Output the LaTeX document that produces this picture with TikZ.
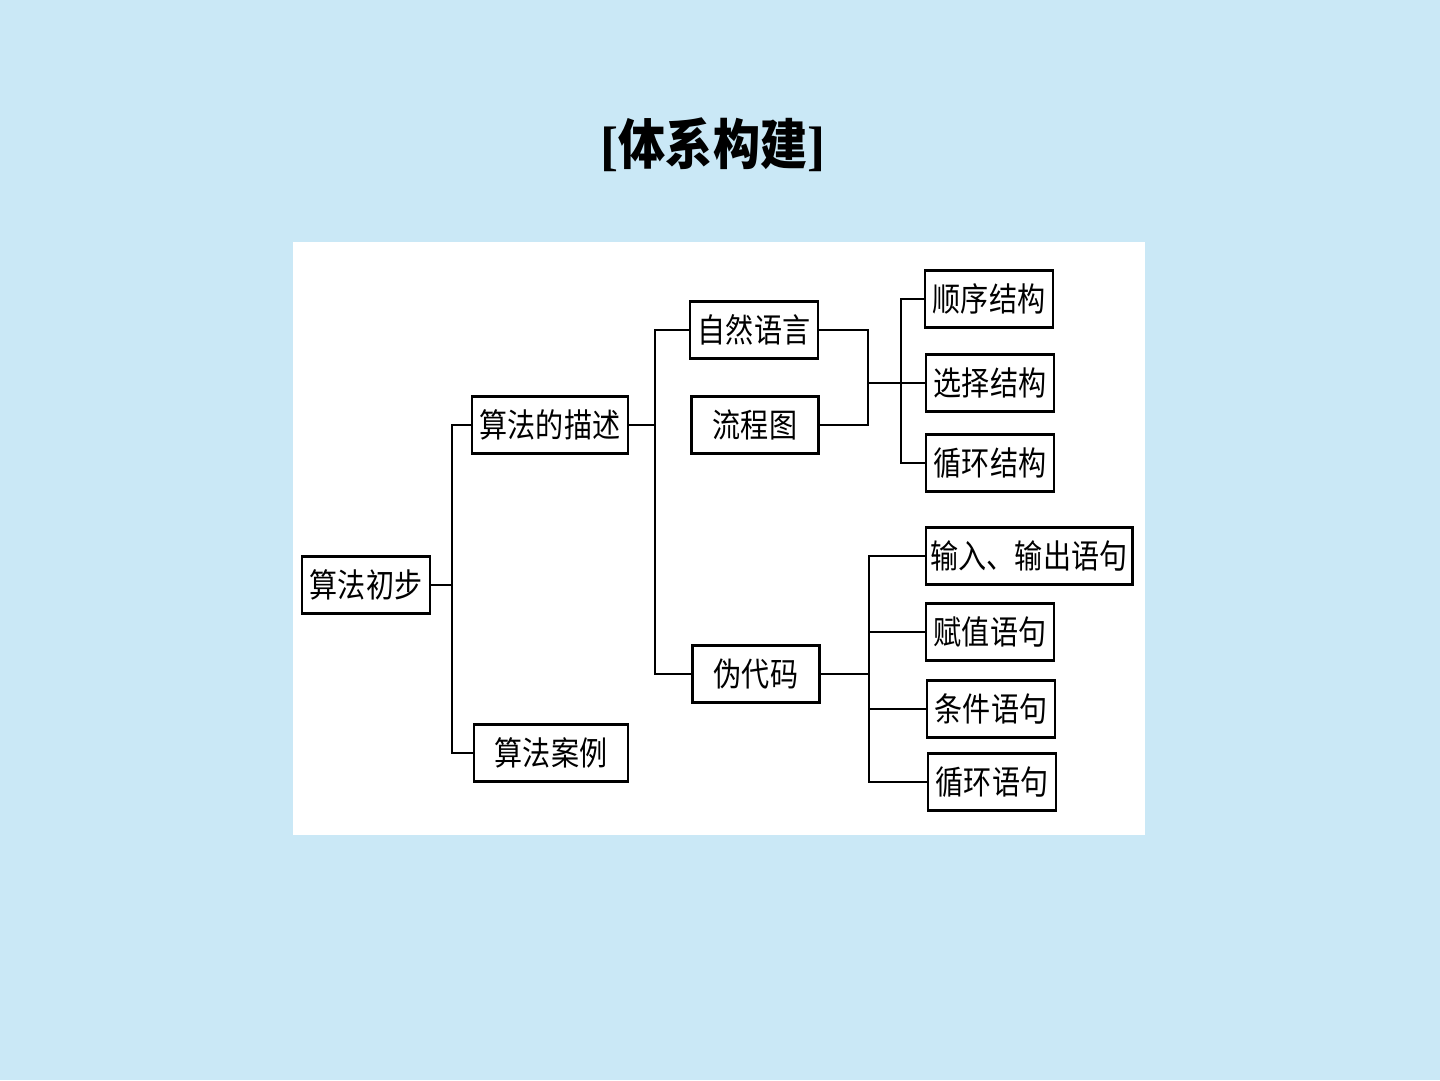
\documentclass[tikz,border=0pt]{standalone}
\usepackage{fontspec}
\newfontfamily\cjk[FakeStretch=0.85]{Noto Sans CJK SC}
\newfontfamily\cjkbold[FakeStretch=0.87]{Noto Sans CJK SC Bold}
\newfontfamily\kurung{Liberation Serif}
\definecolor{slideblue}{RGB}{202,232,246}
\tikzset{
  kotak/.style={draw, line width=0.7pt, fill=white, inner xsep=0.8mm, inner ysep=0.5mm,
    minimum width=12.7mm, minimum height=5.7mm, font=\cjk\fontsize{9.4}{10}\selectfont},
  garis/.style={line width=0.6pt}
}
\begin{document}
\begin{tikzpicture}[x=0.1mm, y=-0.1mm]

      % Latar belakang dan panel putih
      \fill[slideblue] (0,0) rectangle (1440,1080);
      \fill[white] (293,242) rectangle (1145,835);
      \useasboundingbox (0,0) rectangle (1440,1080);

      % Judul
      \node (judul) at (713,145) {\fontsize{15.4}{16}\selectfont\kurung\bfseries [{\cjkbold 体系构建}]};

      % Kotak-kotak
      \node[kotak] (awal) at (366,585) {算法初步};
      \node[kotak] (desk) at (550,425) {算法的描述};
      \node[kotak, minimum width=15.4mm] (kasus) at (551,753) {算法案例};
      \node[kotak] (alami) at (754,330) {自然语言};
      \node[kotak] (alir) at (755,425) {流程图};
      \node[kotak] (semu) at (756,674) {伪代码};
      \node[kotak] (urut) at (989,299) {顺序结构};
      \node[kotak] (pilih) at (990,383) {选择结构};
      \node[kotak] (ulang) at (990,463) {循环结构};
      \node[kotak, inner xsep=0.5mm] (io) at (1029,556) {输入、输出语句};
      \node[kotak] (tugas) at (990,632) {赋值语句};
      \node[kotak] (syarat) at (991,709) {条件语句};
      \node[kotak] (loop) at (992,782) {循环语句};

      % Titik cabang
      \coordinate (c1) at (452,585);
      \coordinate (c2) at (655,425);
      \coordinate (c3) at (868,383);
      \coordinate (c4) at (901,383);
      \coordinate (c5) at (869,674);

      % Garis penghubung
      \draw[garis] (awal.east) -- (c1);
      \draw[garis] (desk.west) -| (c1) |- (kasus.west);
      \draw[garis] (desk.east) -- (c2);
      \draw[garis] (alami.west) -| (c2) |- (semu.west);
      \draw[garis] (alami.east) -| (c3) |- (alir.east);
      \draw[garis] (c3) -- (pilih.west);
      \draw[garis] (urut.west) -| (c4) |- (ulang.west);
      \draw[garis] (semu.east) -- (c5);
      \draw[garis] (io.west) -| (c5) |- (loop.west);
      \draw[garis] (c5 |- tugas.west) -- (tugas.west);
      \draw[garis] (c5 |- syarat.west) -- (syarat.west);

    \end{tikzpicture}
\end{document}
